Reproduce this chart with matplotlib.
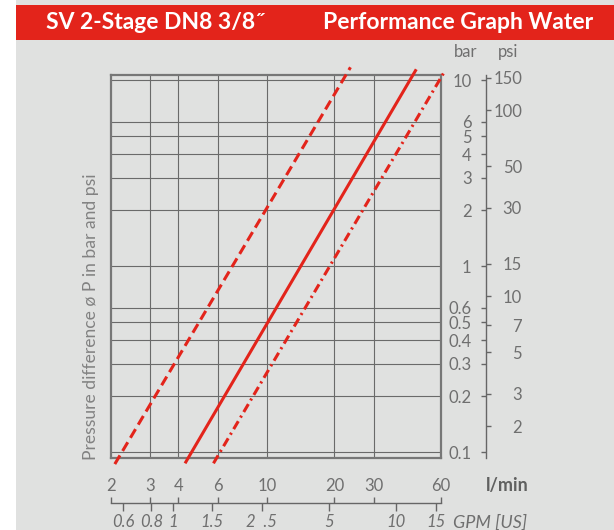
import matplotlib.pyplot as plt
import matplotlib.ticker as mticker
from matplotlib.patches import Rectangle

plt.rcParams['font.family'] = ['Lato', 'DejaVu Sans']

W, H = 614, 530
RED = "#e3241b"
BG = "#e0e1e0"
TXT = "#6f6f6f"
GRID = "#6a6a6a"
FRAME = "#777777"
TICKFS = 12

LPM_PER_GPM = 3.78541
PSI_PER_BAR = 14.5038

# grid lines of the diagram
flow_grid = [3, 4, 6, 10, 20, 30]
bar_grid = [0.1, 0.2, 0.3, 0.4, 0.5, 0.6, 1, 2, 3, 4, 5, 6, 10]

# scale ticks
flow_ticks = [2, 3, 4, 6, 10, 20, 30, 60]
gpm_ticks = [0.6, 0.8, 1, 1.5, 2.5, 5, 10, 15]
gpm_labels = ["0.6", "0.8", "1", "1.5", "2  .5", "5", "10", "15"]
bar_ticks = [0.1, 0.2, 0.3, 0.4, 0.5, 0.6, 1, 2, 3, 4, 5, 6, 10]
bar_labels = ["0.1", "0.2", "0.3", "0.4", "0.5", "0.6", "1", "2", "3", "4", "5", "6", "10"]
psi_ticks = [2, 3, 5, 7, 10, 15, 30, 50, 100, 150]

# pressure drop curves (l/min, bar), end points of each straight log-log line
dashed_flow = [2.08, 23.6]
dashed_dp = [0.0865, 11.75]
solid_flow = [4.29, 46.5]
solid_dp = [0.0873, 11.46]
dashdot_flow = [5.75, 61.8]
dashdot_dp = [0.0873, 10.99]

XLIM = (2, 60)
YLIM = (0.0929, 10.68)


def fx(px):
    return px / W


def fy(py):
    return 1 - py / H


fig = plt.figure(figsize=(W / 100, H / 100), dpi=100)
fig.patch.set_facecolor("white")
fig.patches.append(Rectangle((fx(16), 0), 1 - fx(16), 1, transform=fig.transFigure,
                             facecolor=BG, edgecolor="none", zorder=-10))
fig.patches.append(Rectangle((fx(16), fy(39.5)), 1 - fx(16), (39.5 - 5) / H,
                             transform=fig.transFigure, facecolor=RED,
                             edgecolor="none", zorder=-9))

fig.text(fx(46), fy(22.5), "SV 2-Stage DN8 3/8˝", color="white", fontsize=16.5,
         fontweight="bold", ha="left", va="center")
fig.text(fx(593.5), fy(22.5), "Performance Graph Water", color="white", fontsize=16.5,
         fontweight="bold", ha="right", va="center")

# main diagram
ax = fig.add_axes([fx(111), fy(458.3), fx(441) - fx(111), (458.3 - 75) / H])
ax.set_facecolor("none")
ax.set_xscale("log")
ax.set_yscale("log")
ax.set_xlim(*XLIM)
ax.set_ylim(*YLIM)
ax.set_xticks(flow_grid)
ax.set_yticks(bar_grid)
ax.xaxis.set_minor_locator(mticker.NullLocator())
ax.yaxis.set_minor_locator(mticker.NullLocator())
ax.tick_params(length=0, labelbottom=False, labelleft=False)
ax.grid(True, color=GRID, lw=0.8)
for sp in ax.spines.values():
    sp.set_color(FRAME)
    sp.set_linewidth(1.6)

ax.plot(dashed_flow, dashed_dp, color=RED, lw=2.2, ls=(0, (3.3, 1.7)),
        dash_capstyle="butt", clip_on=False, zorder=5)
ax.plot(solid_flow, solid_dp, color=RED, lw=2.2, solid_capstyle="butt",
        clip_on=False, zorder=5)
ax.plot(dashdot_flow, dashdot_dp, color=RED, lw=2.2, ls=(0, (3.0, 1.4, 0.7, 1.4)),
        dash_capstyle="butt", clip_on=False, zorder=5)

fig.text(fx(91.5), fy(460), "Pressure difference ø P in bar and psi", rotation=90,
         ha="center", va="bottom", fontsize=12.6, color="#828282")

# bar / psi scale
axb = fig.add_axes([fx(485.7), fy(458.3), 1e-4, (458.3 - 75) / H])
axb.set_facecolor("none")
axb.set_yscale("log")
axb.set_ylim(*YLIM)
axb.set_xticks([])

axp = axb.twinx()
axp.set_yscale("log")
axp.set_ylim(YLIM[0] * PSI_PER_BAR, YLIM[1] * PSI_PER_BAR)
for sp in axp.spines.values():
    sp.set_visible(False)
axp.yaxis.tick_right()
axp.set_yticks(psi_ticks, labels=[str(v) for v in psi_ticks])
axp.yaxis.set_minor_locator(mticker.NullLocator())
axp.tick_params(axis="y", direction="out", length=3.6, width=1.0, color="#666666",
                pad=22.5, labelsize=TICKFS, labelcolor=TXT)
for lbl in axp.get_yticklabels():
    lbl.set_horizontalalignment("right")

for name, sp in axb.spines.items():
    sp.set_visible(name == "left")
axb.spines["left"].set_color("#666666")
axb.spines["left"].set_linewidth(1.0)
axb.yaxis.tick_left()
axb.set_yticks(bar_ticks, labels=bar_labels)
axb.yaxis.set_minor_locator(mticker.NullLocator())
axb.tick_params(axis="y", direction="out", length=3.6, width=1.0, color="#666666",
                pad=6.5, labelsize=TICKFS, labelcolor=TXT)

fig.text(fx(465.5), fy(52), "bar", ha="center", va="center", fontsize=TICKFS, color=TXT)
fig.text(fx(508), fy(52), "psi", ha="center", va="center", fontsize=TICKFS, color=TXT)

# flow scales: l/min above the line, US GPM below
axq = fig.add_axes([fx(111), fy(503.3), fx(441) - fx(111), 1e-4])
axq.set_facecolor("none")
axq.set_xscale("log")
axq.set_xlim(*XLIM)
axq.set_yticks([])

axg = axq.twiny()
axg.set_xscale("log")
axg.set_xlim(XLIM[0] / LPM_PER_GPM, XLIM[1] / LPM_PER_GPM)
for sp in axg.spines.values():
    sp.set_visible(False)
axg.xaxis.tick_bottom()
axg.set_xticks(gpm_ticks, labels=gpm_labels)
axg.xaxis.set_minor_locator(mticker.NullLocator())
axg.tick_params(axis="x", direction="out", length=5.4, width=1.0, color="#666666",
                pad=2.5, labelsize=TICKFS, labelcolor=TXT)
for lbl in axg.get_xticklabels():
    lbl.set_fontstyle("italic")

for name, sp in axq.spines.items():
    sp.set_visible(name == "top")
axq.spines["top"].set_color("#666666")
axq.spines["top"].set_linewidth(1.0)
axq.xaxis.tick_top()
axq.set_xticks(flow_ticks, labels=[str(v) for v in flow_ticks])
axq.xaxis.set_minor_locator(mticker.NullLocator())
axq.tick_params(axis="x", direction="out", length=4.3, width=1.0, color="#666666",
                pad=2, labelsize=TICKFS, labelcolor=TXT)

fig.text(fx(486), fy(486), "l/min", ha="left", va="center", fontsize=13,
         fontweight="bold", color="#606060")
fig.text(fx(453), fy(522.7), "GPM [US]", ha="left", va="center", fontsize=13,
         fontstyle="italic", color=TXT)

fig.savefig("out.png", dpi=100)
